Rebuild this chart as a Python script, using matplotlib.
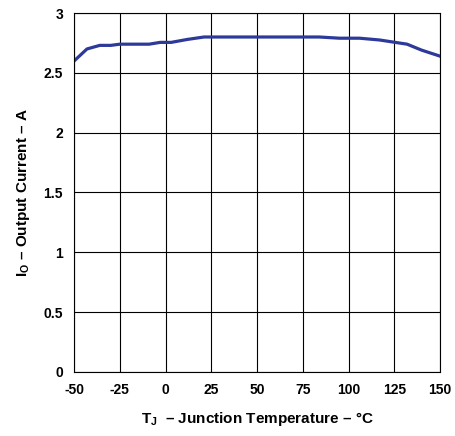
import numpy as np
import matplotlib
matplotlib.use("Agg")
import matplotlib.pyplot as plt

plt.rcParams['font.family'] = ['Liberation Sans', 'DejaVu Sans']
plt.rcParams['font.weight'] = 'bold'
plt.rcParams['axes.unicode_minus'] = False
plt.rcParams['mathtext.fontset'] = 'custom'
plt.rcParams['mathtext.rm'] = 'Liberation Sans:bold'
plt.rcParams['mathtext.it'] = 'Liberation Sans:bold'
plt.rcParams['mathtext.bf'] = 'Liberation Sans:bold'

# Data
temp_c = [-50, -43, -36, -30, -25, -9, -3, 3, 12, 21, 50, 84, 95, 106, 117, 132, 140, 150]
current_a = [2.60, 2.70, 2.73, 2.73, 2.74, 2.74, 2.755, 2.755, 2.78, 2.80, 2.80, 2.80,
             2.79, 2.79, 2.775, 2.74, 2.69, 2.64]

x_ticks = [-50, -25, 0, 25, 50, 75, 100, 125, 150]
y_ticks = [0, 0.5, 1, 1.5, 2, 2.5, 3]
y_labels = ["0", "0.5", "1", "1.5", "2", "2.5", "3"]

fig = plt.figure(figsize=(4.55, 4.36), dpi=100)
ax = fig.add_axes([0.163, 0.147, 0.804, 0.823])

ax.plot(temp_c, current_a, color="#2E3A9A", linewidth=2.3)

ax.set_xlim(-50, 150)
ax.set_ylim(0, 3)
ax.set_xticks(x_ticks)
ax.set_xticklabels([str(t) for t in x_ticks])
ax.set_yticks(y_ticks)
ax.set_yticklabels(y_labels)
ax.grid(True, color="black", linewidth=0.8)
ax.tick_params(length=0, labelsize=10, pad=8)
for s in ax.spines.values():
    s.set_linewidth(0.8)

ax.set_xlabel(r"T$_\mathrm{J}$  – Junction Temperature – °C", fontsize=11, fontweight="bold", labelpad=9)
ax.set_ylabel(r"I$_\mathrm{O}$ – Output Current – A", fontsize=11, fontweight="bold", labelpad=8)

plt.savefig("out.png", dpi=100)
